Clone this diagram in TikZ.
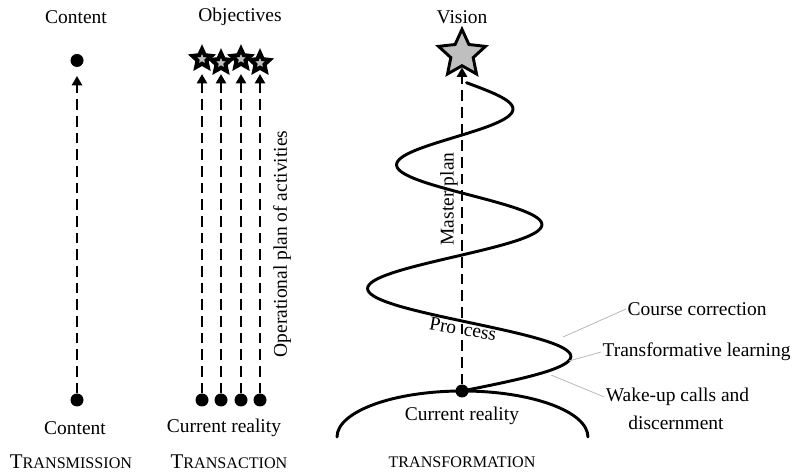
\documentclass[tikz,border=0pt]{standalone}
\usepackage{fontspec}
\setmainfont{Liberation Serif}
\usetikzlibrary{arrows.meta,shapes.geometric}
\pgfdeclarelayer{back}
\pgfsetlayers{back,main}
% small capitals built from two sizes of capitals
\newcommand{\capbig}[1]{{\fontsize{15.7}{18}\selectfont #1}}
\newcommand{\capsmall}[1]{{\fontsize{12.1}{14}\selectfont #1}}
\begin{document}
\begin{tikzpicture}[x=0.75pt,y=0.75pt,
  txt/.style={font=\fontsize{14.6}{17}\selectfont, inner sep=1pt},
  sctxt/.style={inner sep=1pt},
  dot/.style={circle, fill=black, minimum size=9.75pt, inner sep=0pt},
  goal/.style={star, star points=5, star point ratio=2.1, fill=gray!50, draw=black,
    line width=3pt, minimum size=15pt, inner sep=0pt},
  vision/.style={star, star points=5, star point ratio=2.1, fill=gray!50, draw=black,
    line width=2.2pt, minimum size=37pt, inner sep=0pt},
  dasharrow/.style={line width=2pt, dash pattern=on 8pt off 4.5pt,
    -{Triangle[length=7pt,width=7.5pt]}},
  leader/.style={draw=gray!55, line width=0.6pt},
  spiralline/.style={line width=2.2pt, line cap=round}
]
\useasboundingbox (0,0) rectangle (799,-473);

% ---------- Transmission ----------
\node[txt] (contop) at (76,-17) {Content};
\node[dot] (ctop) at (77,-60.5) {};
\node[dot] (cbot) at (77,-400) {};
\node[txt] (conbot) at (75,-428) {Content};
\node[sctxt] (trm) at (71,-462) {\capbig{T}\capsmall{RANSMISSION}};
\draw[dasharrow, shorten >=6.5pt] (cbot) -- (ctop);

% ---------- Transaction ----------
\node[txt] (obj) at (240,-17) {Objectives};
\node[goal] (g1) at (202,-59) {};
\node[goal] (g2) at (221,-63) {};
\node[goal] (g3) at (241,-59) {};
\node[goal] (g4) at (260,-63) {};
\node[dot] (b1) at (202,-400) {};
\node[dot] (b2) at (221,-400) {};
\node[dot] (b3) at (241,-400) {};
\node[dot] (b4) at (260,-400) {};
\node[txt] (cr1) at (224,-428) {Current reality};
\node[sctxt] (tra) at (229,-462) {\capbig{T}\capsmall{RANSACTION}};
\node[txt, rotate=90] (opl) at (282,-244) {Operational plan of activities};
\draw[dasharrow, shorten >=6pt] (b1) -- (g1);
\draw[dasharrow, shorten >=3pt] (b2) -- (g2);
\draw[dasharrow, shorten >=6pt] (b3) -- (g3);
\draw[dasharrow, shorten >=3pt] (b4) -- (g4);

% ---------- Transformation ----------
\node[txt] (vis) at (462,-17) {Vision};
\node[vision] (vstar) at (462,-54) {};
\node[dot] (now) at (462,-391) {};
\node[txt] (cr2) at (462,-416) {Current reality};
\node[sctxt] (trf) at (462,-462) {\capsmall{TRANSFORMATION}};
\node[txt, rotate=90] (mp) at (449,-199) {Master\hspace{4pt}plan};
\node[txt, rotate=-10] (proc) at (463,-329) {Pro\hspace{6pt}cess};

\begin{pgfonlayer}{back}
  % ground of the current reality
  \draw[spiralline] (337,-437) arc[start angle=180, end angle=0,
    x radius=94.1pt, y radius=34.5pt];
  % process spiral rising towards the vision
  \draw[spiralline] plot[domain=0:4.97, samples=240, variable=\u, smooth]
    ({462 + (116-14.5*\u)*sin(180*\u)}, {-391 + 72*\u - 2*\u*\u});
  \draw[dasharrow] (now) -- (vstar);
\end{pgfonlayer}

% side notes on the spiral
\coordinate (k1) at (563,-337);
\coordinate (k2) at (569,-361);
\coordinate (k3) at (551,-375);
\node[txt, anchor=west] (cc) at (626,-309) {Course correction};
\node[txt, anchor=west] (tl) at (601,-352) {Transformative learning};
\node[txt] (wk) at (677.5,-397) {Wake-up calls and};
\node[txt] (dc) at (676,-423) {discernment};
\draw[leader] (k1) -- (cc.west);
\draw[leader] (k2) -- (tl.west);
\draw[leader] (k3) -- (wk.west);
\end{tikzpicture}
\end{document}
